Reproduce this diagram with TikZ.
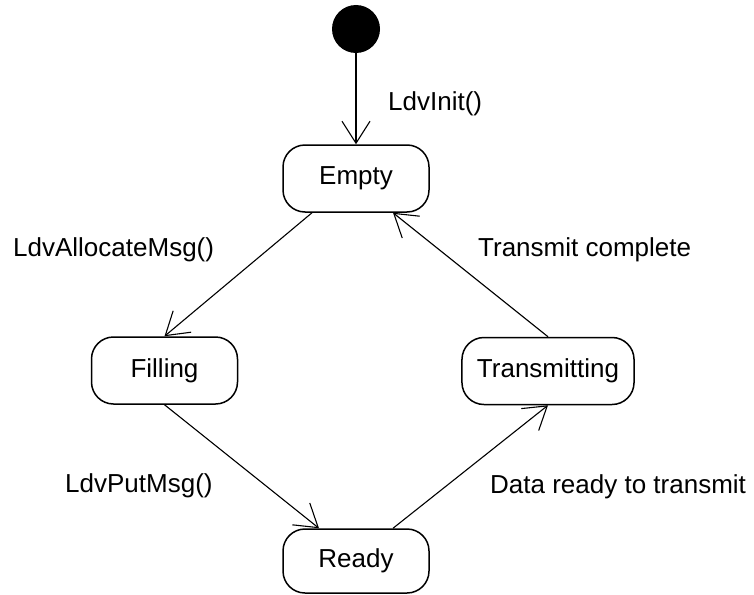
\documentclass[tikz,border=0pt]{standalone}
\usepackage{fontspec}
\setmainfont{Liberation Sans}
\usetikzlibrary{arrows.meta}
\begin{document}
\begin{tikzpicture}[x=1pt,y=-1pt,
  txt/.style={font=\fontsize{26}{30}\selectfont},
  state/.style={txt, draw, line width=1.5pt, rounded corners=22pt,
    minimum width=146pt, minimum height=67pt, inner xsep=15pt},
  initial/.style={circle, fill=black, minimum size=48pt, inner sep=0pt},
  trans/.style={line width=1.1pt, -{Straight Barb[length=22pt,width=28pt]}},
  lbl/.style={txt, anchor=base west, inner sep=0pt}]
\useasboundingbox (0,0) rectangle (754,594);

% states
\node[initial] (init) at (356,29) {};
\node[state] (empty) at (356,178.5) {Empty};
\node[state] (filling) at (164.5,370.5) {Filling};
\node[state] (transmitting) at (548,371) {Transmitting};
\node[state, minimum height=64pt] (ready) at (356,561) {Ready};

% transitions
\draw[trans] (init) -- (empty);
\draw[trans] ([xshift=-44pt]empty.south) -- (filling.north);
\draw[trans] (filling.south) -- ([xshift=-37pt]ready.north);
\draw[trans] ([xshift=37pt]ready.north) -- (transmitting.south);
\draw[trans] (transmitting.north) -- ([xshift=37pt]empty.south);

% transition labels
\node[lbl] (lInit) at (388,110) {LdvInit()};
\node[lbl] (lAlloc) at (13,256) {LdvAllocateMsg()};
\node[lbl] (lDone) at (478,256) {Transmit complete};
\node[lbl] (lPut) at (65,492) {LdvPutMsg()};
\node[lbl] (lData) at (490,493) {Data ready to transmit};
\end{tikzpicture}
\end{document}
